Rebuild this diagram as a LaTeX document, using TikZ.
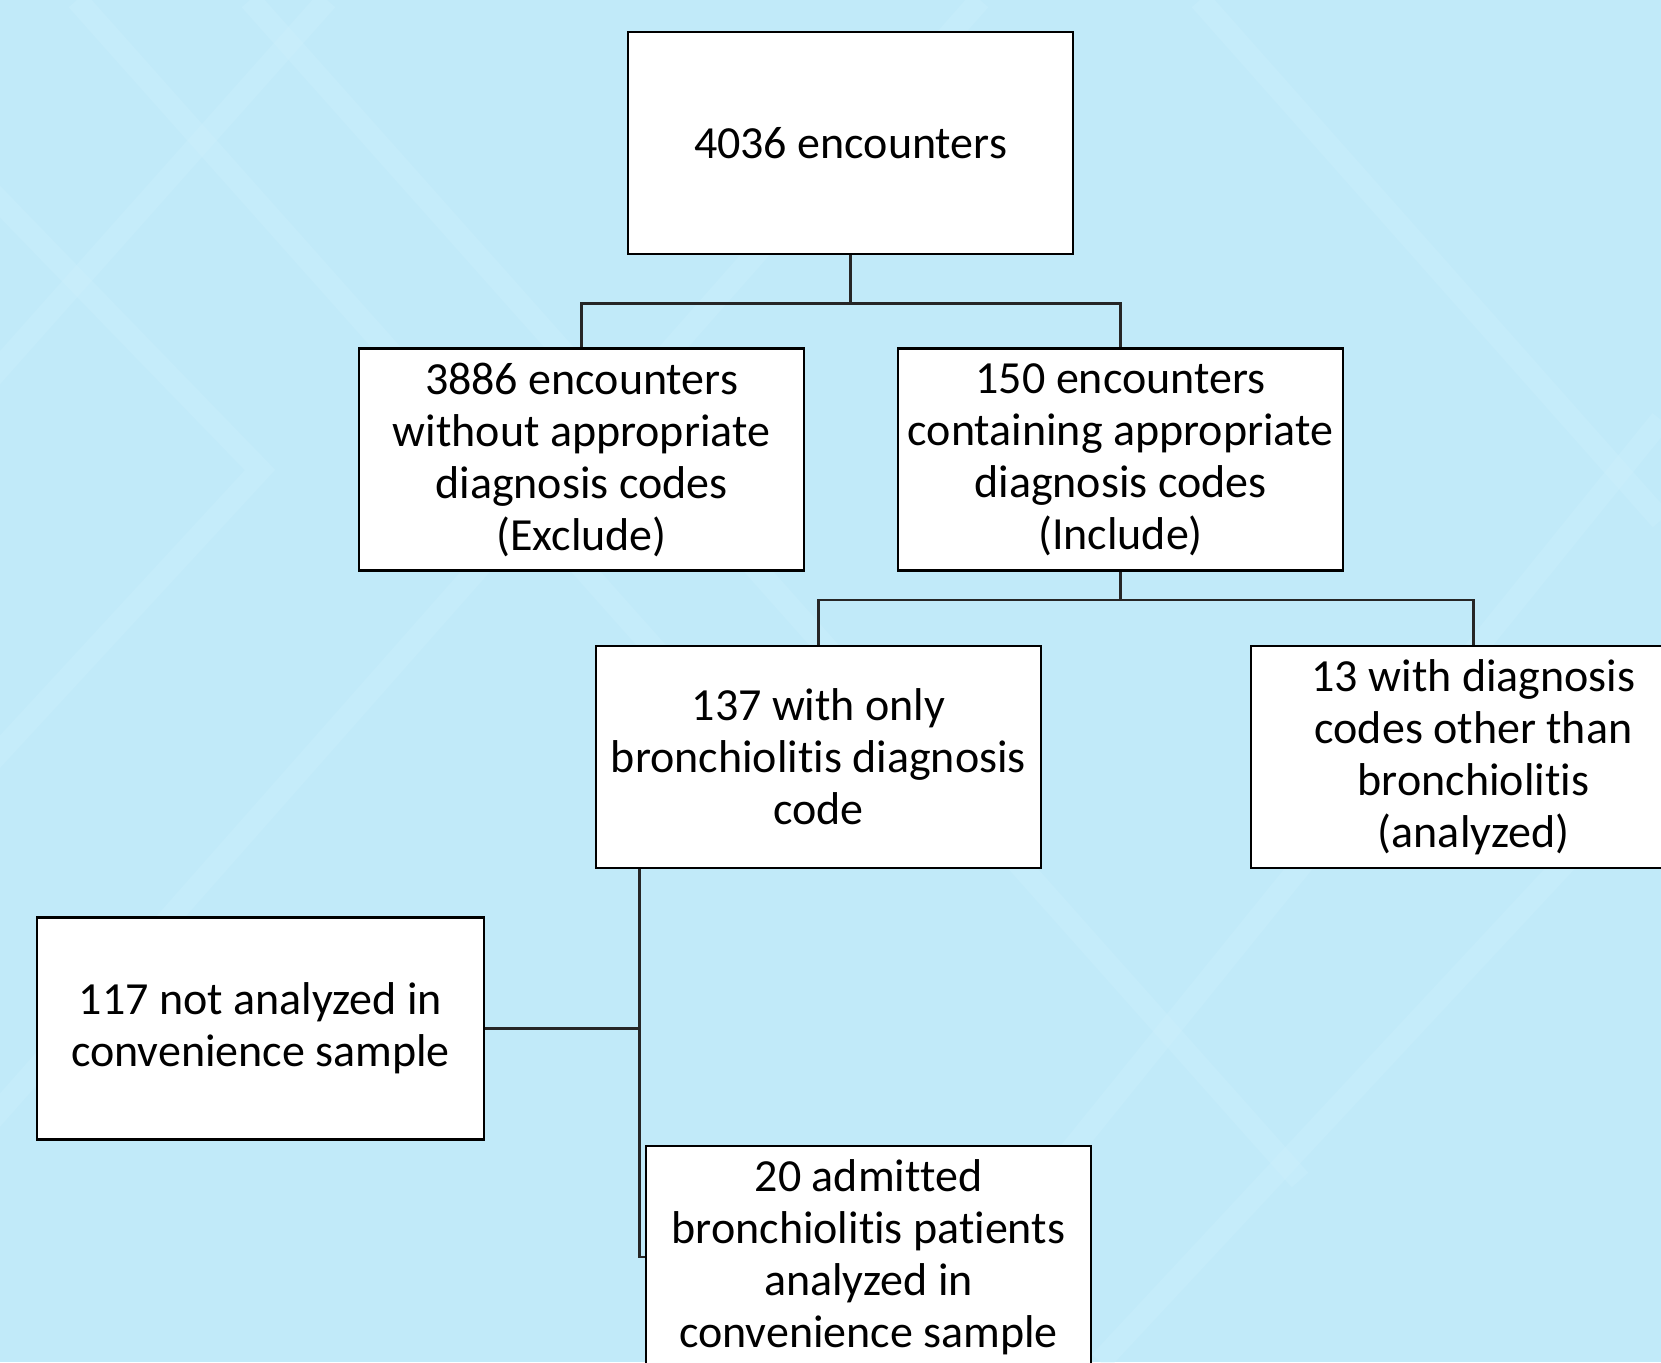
\documentclass[tikz,border=0pt]{standalone}
\usepackage{fontspec}
\setmainfont{Carlito}[RawFeature={-liga}]
\definecolor{bgblue}{RGB}{193,234,249}
\definecolor{bandblue}{RGB}{206,240,252}
\begin{document}
\begin{tikzpicture}[x=1pt,y=-1pt,
  flowbox/.style={draw=black, line width=2.6pt, fill=white, minimum width=445pt, minimum height=222pt,
    inner sep=0pt, align=center, font=\fontsize{46}{52}\selectfont},
  link/.style={draw=black!85, line width=2.6pt}]
\fill[bgblue] (0,0) rectangle (1661,1362);
\useasboundingbox (0,0) rectangle (1661,1362);
\begin{scope}
\clip (0,0) rectangle (1661,1362);
\begin{scope}[bandblue, line width=22pt, opacity=0.35]
\draw (77,0) -- (700,700);
\draw (327,0) -- (-100,480);
\draw (-50,150) -- (260,470) -- (-100,860);
\draw (250,0) -- (1300,1180);
\draw (980,0) -- (-150,1280);
\draw (1661,420) -- (900,1362);
\draw (1100,1362) -- (1661,760);
\draw (1200,0) -- (1661,520);
\end{scope}
\node[flowbox] (top) at (850.5,143) {4036 encounters};
\node[flowbox] (excl) at (581.5,459.5) {3886 encounters\\without appropriate\\diagnosis codes\\(Exclude)};
\node[flowbox] (incl) at (1120.5,459.5) {150 encounters\\containing appropriate\\diagnosis codes\\(Include)};
\node[flowbox] (only) at (818.5,757) {137 with only\\bronchiolitis diagnosis\\code};
\node[flowbox] (other) at (1473.5,757) {13 with diagnosis\\codes other than\\bronchiolitis\\(analyzed)};
\node[flowbox, minimum width=447pt] (notan) at (260.5,1028.5) {117 not analyzed in\\convenience sample};
\node[flowbox] (adm) at (868.5,1257) {20 admitted\\bronchiolitis patients\\analyzed in\\convenience sample};
\draw[link] (top.south) -- ++(0,48) -| (excl.north);
\draw[link] (top.south) -- ++(0,48) -| (incl.north);
\draw[link] (incl.south) -- ++(0,28) -| (only.north);
\draw[link] (incl.south) -- ++(0,28) -| (other.north);
\coordinate (j) at ([xshift=45pt]only.south west);
\draw[link] (j) |- (adm.west);
\draw[link] (notan.east) -- (notan.east -| j);
\end{scope}
\end{tikzpicture}
\end{document}
